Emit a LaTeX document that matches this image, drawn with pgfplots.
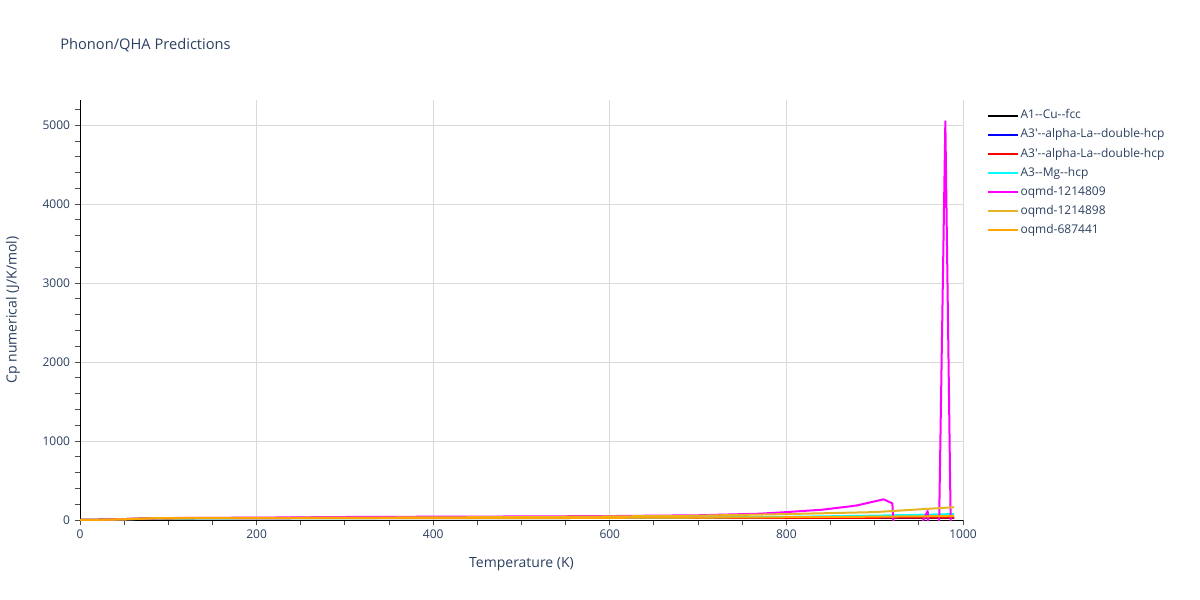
\documentclass[border=0pt]{standalone}
\usepackage{pgfplots}
\pgfplotsset{compat=1.18}
\usepackage{fontspec}
\setmainfont[Ligatures=TeXOff]{Open Sans}
\definecolor{txt}{HTML}{2A3F5F}
\definecolor{gridc}{HTML}{D9D9D9}
\definecolor{gold}{HTML}{E6B424}
\definecolor{orng}{HTML}{FFA500}
\definecolor{cyn}{HTML}{00FFFF}
\definecolor{mgt}{HTML}{FF00FF}
\begin{document}
\begin{tikzpicture}
\useasboundingbox (0,0) rectangle (900bp,-450bp);
\node[anchor=west, font=\fontsize{11bp}{13bp}\selectfont, text=txt, inner sep=0] at (45bp,-33.75bp) {Phonon/QHA Predictions};
\begin{axis}[
  at={(60bp,-390bp)}, anchor=south west,
  scale only axis, width=662.25bp, height=315bp,
  xmin=0, xmax=1000, ymin=0, ymax=5320,
  xtick={0,200,400,600,800,1000},
  ytick={0,1000,2000,3000,4000,5000},
  minor xtick={50,100,...,950},
  minor ytick={200,400,...,5200},
  grid=major, major grid style={gridc, line width=0.75bp},
  axis x line*=bottom, axis y line*=left,
  axis line style={-, black, line width=0.75bp},
  tick align=outside,
  major tick length=4bp, minor tick length=4bp,
  every tick/.style={black!70, line width=0.75bp},
  tick label style={font=\fontsize{9bp}{10bp}\selectfont, text=txt},
  /pgf/number format/assume math mode=true,
  /pgf/number format/1000 sep={},
  scaled y ticks=false,
  xlabel={Temperature (K)}, ylabel={Cp numerical (J/K/mol)},
  label style={font=\fontsize{10.5bp}{12bp}\selectfont, text=txt},
  xlabel style={at={(0.5,0)}, anchor=center, yshift=-33bp},
  ylabel style={at={(0,0.5)}, anchor=center, rotate=0, yshift=50.25bp},
  legend style={at={(1,1)}, anchor=north west, xshift=15bp, yshift=-3.5bp,
    draw=none, fill=none, font=\fontsize{9bp}{10bp}\selectfont, text=txt,
    row sep=2.3bp, nodes={inner sep=1.5bp, text height=7bp, text depth=2bp}},
  legend cell align=left,
  legend image code/.code={\draw[#1] (0bp,0bp) -- (22bp,0bp);},
  every axis plot/.append style={line width=1.5bp, line join=round},
  clip=true,
]
\addplot[black] coordinates {(0,0) (20,2) (50,10) (80,18) (100,21) (150,23) (200,24) (300,24.5) (400,25) (600,25.5) (800,26) (990,27)};
\addlegendentry{A1--Cu--fcc}
\addplot[blue] coordinates {(0,0) (20,3) (50,12) (80,19) (100,22) (150,24) (200,25) (300,26) (400,26.5) (600,27) (800,28) (990,29)};
\addlegendentry{A3'--alpha-La--double-hcp}
\addplot[red] coordinates {(0,0) (20,3) (50,12) (80,19) (100,22) (150,24) (200,25) (300,26) (400,26.5) (600,27) (800,28) (990,29)};
\addlegendentry{A3'--alpha-La--double-hcp}
\addplot[cyn] coordinates {(0,0) (20,2) (50,9) (80,17) (100,20) (200,23) (300,25) (400,26) (500,27) (600,29) (700,32) (800,40) (900,55) (990,75)};
\addlegendentry{A3--Mg--hcp}
\addplot[mgt] coordinates {(0,0) (20,2) (50,10) (80,20) (100,25) (200,30) (300,38) (400,42) (500,45) (600,50) (700,60) (770,80) (800,100) (840,130) (870,170) (880,185) (910,262) (920,211) (930,-1900) (940,-1000) (950,-114) (960,114) (970,-2164) (980,5050) (990,-3367)};
\addlegendentry{oqmd-1214809}
\addplot[gold] coordinates {(0,0) (20,2) (50,8) (80,22) (100,25) (200,27) (300,30) (400,33) (500,38) (600,45) (700,55) (800,75) (900,100) (990,162)};
\addlegendentry{oqmd-1214898}
\addplot[orng] coordinates {(0,0) (20,2) (50,9) (80,20) (100,22) (200,24) (300,25) (400,26) (500,27) (600,28) (700,31) (800,35) (900,42) (990,50)};
\addlegendentry{oqmd-687441}
\end{axis}
\end{tikzpicture}
\end{document}
